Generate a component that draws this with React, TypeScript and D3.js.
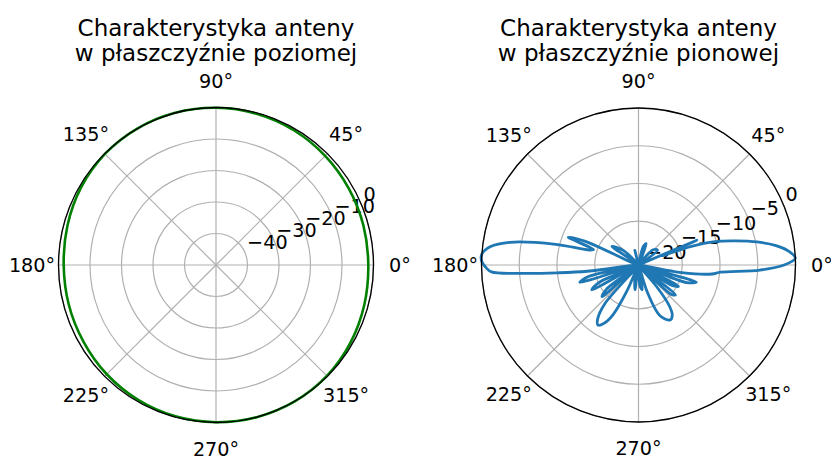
import React from "react";
import * as d3 from "d3";

const W = 831;
const H = 456;

// Horizontal-plane pattern (green)
const hAngles = [0, 15, 30, 45, 60, 75, 90, 105, 120, 135, 150, 165, 180, 195, 210, 225, 240, 255, 270, 285, 300, 315, 330, 345];
const hGain = [-1.65, -1.55, -1.35, -1.0, -0.6, -0.3, -0.1, 0, 0, -0.15, -0.6, -1.2, -1.65, -1.6, -1.4, -0.95, -0.55, -0.25, -0.1, 0, 0, -0.2, -0.7, -1.25];

// Vertical-plane pattern (blue)
const vAngles = [
  0, 2.5, 5, 8, 11, 14, 17, 19.5, 21.5, 23, 24.5,
  30, 38, 46, 52,
  64, 70, 75, 80,
  95, 104, 110,
  128, 136, 145, 150,
  156, 158.5, 161, 163, 166, 170, 173, 176, 178.5, 181, 182.7, 184, 185.5, 187, 189,
  193, 196.5, 200,
  204, 208, 212,
  217, 221, 225,
  229, 233, 236, 240, 243, 246, 248,
  255, 262, 268,
  274, 279, 284,
  288, 293, 300, 304, 307, 310, 313,
  318, 321, 325,
  329, 332, 336,
  340, 343.5, 347,
  350, 353, 355, 357.6,
];
const vGain = [
  -1.5, 0, -0.7, -2.4, -4.8, -7.6, -10.2, -13.5, -17.5, -12.4, -21,
  -21, -17.6, -18, -21,
  -21, -17.8, -18.2, -21,
  -21, -18.8, -21,
  -21, -18, -16.5, -21,
  -13, -10.8, -14.5, -14, -9.5, -3.5, -1, 0, 0, -0.6, -1.3, -5, -10, -14, -21,
  -14, -12.7, -21,
  -15, -13.8, -21,
  -15.5, -14.4, -21,
  -14, -11.8, -11.2, -12, -13.5, -17, -21,
  -19, -17.5, -21,
  -18, -17.5, -21,
  -17, -13.5, -12.4, -12.8, -14, -17, -21,
  -15, -14.5, -21,
  -15.5, -14.8, -21,
  -14, -12.8, -21,
  -15, -11, -9.9, -4.7,
];

const angleTicks = [0, 45, 90, 135, 180, 225, 270, 315];
const hRadialTicks = [-40, -30, -20, -10, 0];
const vRadialTicks = [-20, -15, -10, -5, 0];
const titleLeft = ["Charakterystyka anteny", "w płaszczyźnie poziomej"];
const titleRight = ["Charakterystyka anteny", "w płaszczyźnie pionowej"];

const FONT = "DejaVu Sans";
const FS = 19.2;
const TFS = 23;

type PolarProps = {
  cx: number;
  cy: number;
  R: number;
  rmin: number;
  rmax: number;
  rticks: number[];
  angles: number[];
  gains: number[];
  color: string;
  lw: number;
  title: string[];
};

function fmt(v: number) {
  return v < 0 ? "\u2212" + Math.abs(v) : String(v);
}

function Polar({ cx, cy, R, rmin, rmax, rticks, angles, gains, color, lw, title }: PolarProps) {
  const rs = d3.scaleLinear().domain([rmin, rmax]).range([0, R]);
  const data: [number, number][] = angles.map((a, i) => [a, gains[i]]);
  const line = d3
    .lineRadial<[number, number]>()
    .angle((d) => ((90 - d[0]) * Math.PI) / 180)
    .radius((d) => rs(Math.max(d[1], rmin)))
    .curve(d3.curveCatmullRomClosed.alpha(0.5));
  const labAng = (22.5 * Math.PI) / 180;
  const grid = "#b0b0b0";
  return (
    <g>
      {title.map((t, i) => (
        <text key={i} x={cx} y={36 + i * 25} textAnchor="middle" fontFamily={FONT} fontSize={TFS} fill="#000">
          {t}
        </text>
      ))}
      {rticks.map((t) => (
        <circle key={t} cx={cx} cy={cy} r={Math.max(rs(t), 0)} fill="none" stroke={grid} strokeWidth={1.2} />
      ))}
      {angleTicks.map((a) => {
        const th = (a * Math.PI) / 180;
        return (
          <line key={a} x1={cx} y1={cy} x2={cx + R * Math.cos(th)} y2={cy - R * Math.sin(th)} stroke={grid} strokeWidth={1.2} />
        );
      })}
      {rticks.map((t) => {
        const r = rs(t);
        const x = cx + r * Math.cos(labAng);
        const y = cy - r * Math.sin(labAng);
        return (
          <text key={"l" + t} x={x + 2} y={y - 4} fontFamily={FONT} fontSize={FS} fill="#000">
            {fmt(t)}
          </text>
        );
      })}
      <path d={line(data) || ""} transform={`translate(${cx},${cy})`} fill="none" stroke={color} strokeWidth={lw} strokeLinejoin="round" />
      <circle cx={cx} cy={cy} r={R} fill="none" stroke="#000" strokeWidth={1.3} />
      {angleTicks.map((a) => {
        const th = (a * Math.PI) / 180;
        const rr = R + 26.5;
        return (
          <text
            key={"a" + a}
            x={cx + rr * Math.cos(th)}
            y={cy - rr * Math.sin(th)}
            textAnchor="middle"
            dominantBaseline="central"
            fontFamily={FONT}
            fontSize={FS}
            fill="#000"
          >
            {a + "°"}
          </text>
        );
      })}
    </g>
  );
}

export default function App() {
  return (
    <svg width={W} height={H} style={{ position: "absolute", left: 0, top: 0, background: "#fff" }}>
      <rect width={W} height={H} fill="#fff" />
      <Polar cx={216} cy={265} R={157.5} rmin={-50} rmax={0} rticks={hRadialTicks} angles={hAngles} gains={hGain} color="#008000" lw={2.6} title={titleLeft} />
      <Polar cx={638.5} cy={265} R={157} rmin={-20.8} rmax={0} rticks={vRadialTicks} angles={vAngles} gains={vGain} color="#1f77b4" lw={2.8} title={titleRight} />
    </svg>
  );
}
